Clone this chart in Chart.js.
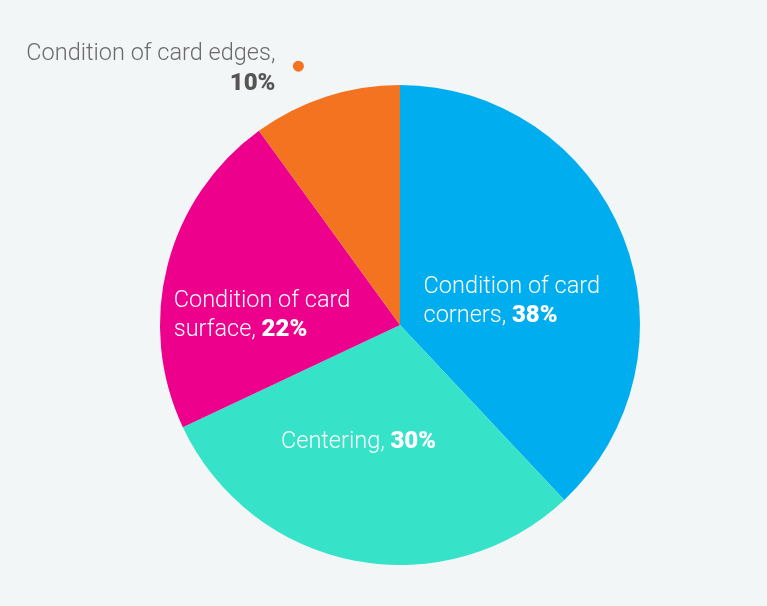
<!DOCTYPE html>
<html>
<head>
<meta charset="utf-8">
<script src="https://cdn.jsdelivr.net/npm/chart.js@4"></script>
<style>
	html, body { margin:0; padding:0; background:#f3f6f7; }
	#box { width:767px; height:606px; }
</style>
</head>
<body>
<div id="box"><canvas id="grafico"></canvas></div>
<script>
var categorias = ["Condition of card corners", "Centering", "Condition of card surface", "Condition of card edges"];
var valores = [38, 30, 22, 10];
var cores = ["#00aeef", "#36e3c8", "#ec008c", "#f37321"];

// linhas de cada rotulo (texto normal) - o percentual vai em negrito no fim
var linhasRotulo = [
	["Condition of card", "corners, "],
	["Centering, "],
	["Condition of card", "surface, "],
	["Condition of card edges,", ""]
];

var fonteNormal = "300 23.5px Roboto";
var fonteBold = "900 24px Roboto";

var rotulosPlugin = {
	id: "rotulos",
	afterDatasetsDraw: function(chart){
		var ctx = chart.ctx;
		var meta = chart.getDatasetMeta(0);
		ctx.save();
		ctx.textBaseline = "middle";
		for(var i=0; i<meta.data.length; i++){
			var arc = meta.data[i];
			var meio = (arc.startAngle + arc.endAngle) / 2;
			var r = arc.outerRadius;
			var pct = valores[i] + "%";
			var linhas = linhasRotulo[i];
			if(i == 3){
				// fatia pequena: rotulo fora, com um ponto
				var px = arc.x + Math.cos(meio - 0.06) * (r + 38);
				var py = arc.y + Math.sin(meio - 0.06) * (r + 38);
				ctx.fillStyle = cores[i];
				ctx.beginPath();
				ctx.arc(px, py, 5.5, 0, Math.PI*2);
				ctx.fill();
				ctx.textAlign = "right";
				ctx.font = fonteNormal;
				ctx.fillStyle = "#6b6b6b";
				ctx.fillText(linhas[0], px - 23, py - 12);
				ctx.font = fonteBold;
				ctx.fillStyle = "#555555";
				ctx.fillText(pct, px - 23, py + 18);
				continue;
			}
			var cx = arc.x + Math.cos(meio) * r * 0.5;
			var cy = arc.y + Math.sin(meio) * r * 0.5;
			ctx.textAlign = "left";
			ctx.fillStyle = "#ffffff";
			// largura do bloco
			ctx.font = fonteNormal;
			var larg = 0;
			for(var j=0; j<linhas.length; j++){
				var w = ctx.measureText(linhas[j]).width;
				if(j == linhas.length-1){
					ctx.font = fonteBold;
					w += ctx.measureText(pct).width;
					ctx.font = fonteNormal;
				}
				if(w > larg) larg = w;
			}
			var x0 = cx - larg/2;
			if(i == 0){ x0 = cx - 88; cy = cy + 21; }
			if(i == 2){ x0 = cx - 110; cy = cy + 20; }
			if(i == 1){ x0 = cx - larg/2 - 19; cy = cy - 1; }
			var alt = 29;
			var y0 = cy - (linhas.length-1) * alt / 2;
			for(var j=0; j<linhas.length; j++){
				ctx.font = fonteNormal;
				ctx.fillText(linhas[j], x0, y0 + j*alt);
				if(j == linhas.length-1){
					var wl = ctx.measureText(linhas[j]).width;
					ctx.font = fonteBold;
					ctx.fillText(pct, x0 + wl, y0 + j*alt);
				}
			}
		}
		ctx.restore();
	}
};

var ctx = document.getElementById("grafico");
var chartGraph = new Chart(ctx, {
	type: "pie",
	data: {
		labels: categorias,
		datasets: [{
			data: valores,
			backgroundColor: cores,
			borderWidth: 0
		}]
	},
	options: {
		responsive: true,
		maintainAspectRatio: false,
		animation: false,
		layout: { padding: { left: 160, right: 127, top: 85, bottom: 41 } },
		plugins: {
			legend: { display: false },
			tooltip: { enabled: false }
		}
	},
	plugins: [rotulosPlugin]
});
</script>
</body>
</html>
